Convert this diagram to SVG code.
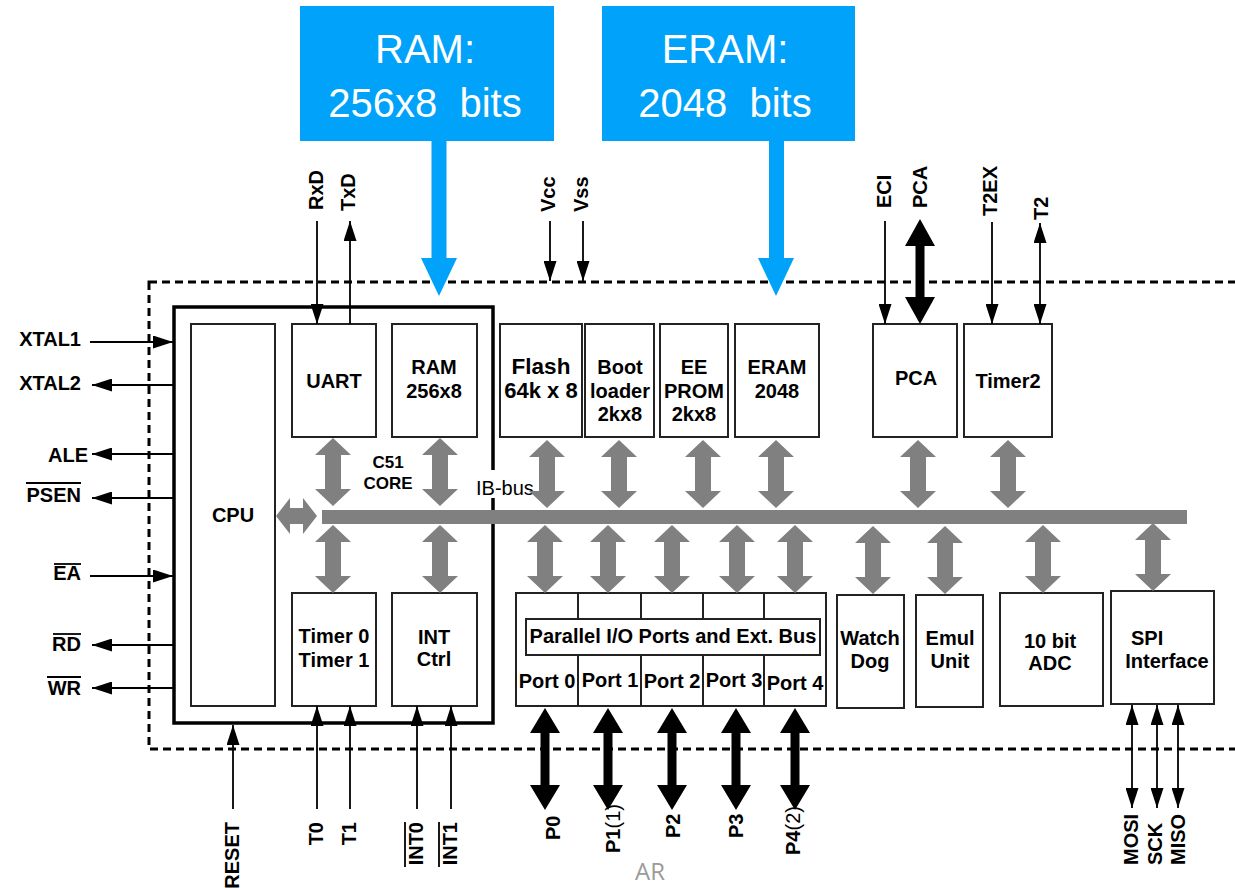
<svg xmlns="http://www.w3.org/2000/svg" xmlns:xlink="http://www.w3.org/1999/xlink" width="1235" height="888" viewBox="0 0 1235 888">
  <style>
    .lbl { font-family: "Liberation Sans", Arial, sans-serif; font-weight: bold; font-size: 20px; fill: #000; }
    .mid { text-anchor: middle; }
    .end { text-anchor: end; }
    .reg { font-weight: normal; }
    .box { fill: #fff; stroke: #222; stroke-width: 2; }
    .wire { stroke: #000; stroke-width: 1.8; fill: none; }
    .ovl { stroke: #000; stroke-width: 1.8; }
    .gray { fill: #808080; }
    .blk { fill: #000; }
    .blue { fill: #00A2FA; }
    .btxt { font-family: "Liberation Sans", Arial, sans-serif; font-size: 40px; fill: #fff; text-anchor: middle; }
  </style>
  <defs>
    <marker id="ah" markerUnits="userSpaceOnUse" markerWidth="20" markerHeight="13" refX="20" refY="6.5" orient="auto-start-reverse" viewBox="0 0 20 13">
      <path d="M0,0 L20,6.5 L0,13 Z" fill="#000"/>
    </marker>
    <!-- grey bus link, vertical, 68 px long -->
    <path id="gv" d="M0,0 L18,17 L8,17 L8,51 L18,51 L0,68 L-18,51 L-8,51 L-8,17 L-18,17 Z"/>
    <!-- black port link, vertical, 102 px long -->
    <path id="bv" d="M0,0 L15,25 L4.5,25 L4.5,77 L15,77 L0,102 L-15,77 L-4.5,77 L-4.5,25 L-15,25 Z"/>
  </defs>

  <rect width="1235" height="888" fill="#fff"/>

  <!-- chip outline -->
  <rect x="149" y="282" width="1110" height="467" fill="none" stroke="#000" stroke-width="3" stroke-dasharray="8 5"/>

  <!-- C51 core frame -->
  <g id="core">
    <rect x="174" y="307" width="319" height="416" fill="none" stroke="#000" stroke-width="3.5"/>
    <text class="lbl mid" x="388" y="468" style="font-size:17px">C51</text>
    <text class="lbl mid" x="388" y="489" style="font-size:17px">CORE</text>
  </g>

  <g id="cpu">
    <rect class="box" x="191" y="324" width="84" height="382"/>
    <text class="lbl mid" x="233" y="522">CPU</text>
  </g>
  <g id="uart">
    <rect class="box" x="292" y="324" width="84" height="113"/>
    <text class="lbl mid" x="334" y="388">UART</text>
  </g>
  <g id="ram">
    <rect class="box" x="392" y="324" width="85" height="113"/>
    <text class="lbl mid" x="434" y="374">RAM</text>
    <text class="lbl mid" x="434" y="398">256x8</text>
  </g>
  <g id="timers">
    <rect class="box" x="292" y="593" width="84" height="113"/>
    <text class="lbl mid" x="334" y="643">Timer 0</text>
    <text class="lbl mid" x="334" y="667">Timer 1</text>
  </g>
  <g id="intctrl">
    <rect class="box" x="392" y="593" width="85" height="113"/>
    <text class="lbl mid" x="434" y="644">INT</text>
    <text class="lbl mid" x="434" y="666">Ctrl</text>
  </g>

  <g id="flash">
    <rect class="box" x="500" y="324" width="82" height="113"/>
    <text class="lbl mid" x="541" y="374" style="font-size:22.5px">Flash</text>
    <text class="lbl mid" x="541" y="398" style="font-size:22px">64k x 8</text>
  </g>
  <g id="bootloader">
    <rect class="box" x="585" y="324" width="69" height="113"/>
    <text class="lbl mid" x="620" y="374">Boot</text>
    <text class="lbl mid" x="620" y="398">loader</text>
    <text class="lbl mid" x="620" y="421">2kx8</text>
  </g>
  <g id="eeprom">
    <rect class="box" x="660" y="324" width="68" height="113"/>
    <text class="lbl mid" x="694" y="374">EE</text>
    <text class="lbl mid" x="694" y="398">PROM</text>
    <text class="lbl mid" x="694" y="421">2kx8</text>
  </g>
  <g id="eram">
    <rect class="box" x="735" y="324" width="84" height="113"/>
    <text class="lbl mid" x="777" y="374">ERAM</text>
    <text class="lbl mid" x="777" y="398">2048</text>
  </g>
  <g id="pca">
    <rect class="box" x="873" y="324" width="84" height="113"/>
    <text class="lbl mid" x="916" y="385">PCA</text>
  </g>
  <g id="timer2">
    <rect class="box" x="964" y="324" width="88" height="113"/>
    <text class="lbl mid" x="1008" y="388">Timer2</text>
  </g>

  <g id="ports">
    <rect class="box" x="516" y="593" width="310" height="113"/>
    <path d="M578,593 V619 M641,593 V619 M703,593 V619 M764,593 V619 M578,655 V706 M641,655 V706 M703,655 V706 M764,655 V706" stroke="#222" stroke-width="2"/>
    <rect class="box" x="526" y="619" width="294" height="36"/>
    <text class="lbl mid" x="673" y="643">Parallel I/O Ports and Ext. Bus</text>
    <text class="lbl mid" x="547" y="688">Port 0</text>
    <text class="lbl mid" x="610" y="687">Port 1</text>
    <text class="lbl mid" x="672" y="688">Port 2</text>
    <text class="lbl mid" x="734" y="687">Port 3</text>
    <text class="lbl mid" x="795" y="690">Port 4</text>
  </g>
  <g id="watchdog">
    <rect class="box" x="837" y="595" width="67" height="113"/>
    <text class="lbl mid" x="870" y="645">Watch</text>
    <text class="lbl mid" x="870" y="668">Dog</text>
  </g>
  <g id="emul">
    <rect class="box" x="916" y="595" width="67" height="112"/>
    <text class="lbl mid" x="950" y="645">Emul</text>
    <text class="lbl mid" x="950" y="668">Unit</text>
  </g>
  <g id="adc">
    <rect class="box" x="1000" y="593" width="103" height="113"/>
    <text class="lbl mid" x="1050" y="648">10 bit</text>
    <text class="lbl mid" x="1050" y="670">ADC</text>
  </g>
  <g id="spi">
    <rect class="box" x="1111" y="591" width="103" height="113"/>
    <text class="lbl" x="1131" y="645">SPI</text>
    <text class="lbl mid" x="1167" y="668">Interface</text>
  </g>

  <!-- internal bus and links -->
  <g id="connectors">
    <rect class="gray" x="322" y="510" width="865" height="14"/>
    <rect x="488" y="470" width="10" height="28" fill="#fff"/>
    <text class="lbl reg" x="476" y="495">IB-bus</text>
    <path class="gray" d="M276,516 L290,498 L290,508 L303,508 L303,498 L317,516 L303,534 L303,524 L290,524 L290,534 Z"/>

    <g class="gray">
      <use xlink:href="#gv" x="333" y="438"/>
      <use xlink:href="#gv" x="440" y="438"/>
      <use xlink:href="#gv" x="333" y="525"/>
      <use xlink:href="#gv" x="440" y="525"/>
      <use xlink:href="#gv" x="547" y="440"/>
      <use xlink:href="#gv" x="619" y="440"/>
      <use xlink:href="#gv" x="703" y="440"/>
      <use xlink:href="#gv" x="776" y="440"/>
      <use xlink:href="#gv" x="918" y="440"/>
      <use xlink:href="#gv" x="1008" y="440"/>
      <use xlink:href="#gv" x="545" y="525"/>
      <use xlink:href="#gv" x="608" y="525"/>
      <use xlink:href="#gv" x="672" y="525"/>
      <use xlink:href="#gv" x="737" y="525"/>
      <use xlink:href="#gv" x="795" y="525"/>
      <use xlink:href="#gv" x="873" y="526"/>
      <use xlink:href="#gv" x="945" y="526"/>
      <use xlink:href="#gv" x="1043" y="525"/>
      <use xlink:href="#gv" x="1153" y="523"/>
    </g>

    <!-- port pins -->
    <g class="blk">
      <use xlink:href="#bv" x="545" y="708"/>
      <use xlink:href="#bv" x="608" y="708"/>
      <use xlink:href="#bv" x="672" y="708"/>
      <use xlink:href="#bv" x="736" y="708"/>
      <use xlink:href="#bv" x="795" y="708"/>
      <path d="M920,219 L935,246 L924.5,246 L924.5,297 L935,297 L920,324 L905,297 L915.5,297 L915.5,246 L905,246 Z"/>
    </g>

    <!-- single-wire signals -->
    <g class="wire" marker-end="url(#ah)">
      <line x1="90" y1="342" x2="173" y2="342"/>
      <line x1="174" y1="385" x2="92" y2="385"/>
      <line x1="174" y1="454" x2="92" y2="454"/>
      <line x1="174" y1="498" x2="92" y2="498"/>
      <line x1="90" y1="576" x2="173" y2="576"/>
      <line x1="174" y1="645" x2="92" y2="645"/>
      <line x1="174" y1="688" x2="92" y2="688"/>
      <line x1="317" y1="221" x2="317" y2="324"/>
      <line x1="350" y1="324" x2="350" y2="221"/>
      <line x1="550" y1="221" x2="550" y2="281"/>
      <line x1="583" y1="221" x2="583" y2="281"/>
      <line x1="885" y1="221" x2="885" y2="324"/>
      <line x1="992" y1="222" x2="992" y2="324"/>
      <line x1="233" y1="809" x2="233" y2="725"/>
      <line x1="317" y1="809" x2="317" y2="706"/>
      <line x1="350" y1="809" x2="350" y2="706"/>
      <line x1="417" y1="809" x2="417" y2="706"/>
      <line x1="451" y1="809" x2="451" y2="706"/>
    </g>
    <g class="wire" marker-start="url(#ah)" marker-end="url(#ah)">
      <line x1="1040" y1="223" x2="1040" y2="324"/>
      <line x1="1132" y1="705" x2="1132" y2="808"/>
      <line x1="1157" y1="705" x2="1157" y2="808"/>
      <line x1="1178" y1="705" x2="1178" y2="808"/>
    </g>
  </g>

  <!-- pin names, left -->
  <g id="pins-left">
    <text class="lbl end" x="81" y="346">XTAL1</text>
    <text class="lbl end" x="81" y="390">XTAL2</text>
    <text class="lbl end" x="88" y="462">ALE</text>
    <text class="lbl end" x="81" y="502">PSEN</text>
    <text class="lbl end" x="81" y="580">EA</text>
    <text class="lbl end" x="81" y="651">RD</text>
    <text class="lbl end" x="81" y="695">WR</text>
    <line class="ovl" x1="26" y1="483" x2="81" y2="483"/>
    <line class="ovl" x1="54" y1="564" x2="81" y2="564"/>
    <line class="ovl" x1="53" y1="634" x2="81" y2="634"/>
    <line class="ovl" x1="47" y1="677" x2="81" y2="677"/>
  </g>

  <!-- pin names, top -->
  <g id="pins-top">
    <text class="lbl" transform="translate(323,210) rotate(-90)">RxD</text>
    <text class="lbl" transform="translate(355,211) rotate(-90)">TxD</text>
    <text class="lbl" transform="translate(555,212) rotate(-90)">Vcc</text>
    <text class="lbl" transform="translate(588,212) rotate(-90)">Vss</text>
    <text class="lbl" transform="translate(891,208) rotate(-90)">ECI</text>
    <text class="lbl" transform="translate(927,208) rotate(-90)">PCA</text>
    <text class="lbl" transform="translate(997,216) rotate(-90)">T2EX</text>
    <text class="lbl" transform="translate(1048,220) rotate(-90)">T2</text>
  </g>

  <!-- pin names, bottom -->
  <g id="pins-bottom">
    <text class="lbl end" transform="translate(239,822) rotate(-90)">RESET</text>
    <text class="lbl end" transform="translate(323,822) rotate(-90)">T0</text>
    <text class="lbl end" transform="translate(356,822) rotate(-90)">T1</text>
    <text class="lbl end" transform="translate(423,822) rotate(-90)">INT0</text>
    <text class="lbl end" transform="translate(457,822) rotate(-90)">INT1</text>
    <line class="ovl" x1="405" y1="822" x2="405" y2="867"/>
    <line class="ovl" x1="439" y1="822" x2="439" y2="867"/>
    <text class="lbl" transform="translate(560,840) rotate(-90)">P0</text>
    <text class="lbl" transform="translate(620,853) rotate(-90)">P1<tspan class="reg">(1)</tspan></text>
    <text class="lbl" transform="translate(680,838) rotate(-90)">P2</text>
    <text class="lbl" transform="translate(743,838) rotate(-90)">P3</text>
    <text class="lbl" transform="translate(800,855) rotate(-90)">P4<tspan class="reg">(2)</tspan></text>
    <text class="lbl" transform="translate(1138,865) rotate(-90)">MOSI</text>
    <text class="lbl" transform="translate(1162,865) rotate(-90)">SCK</text>
    <text class="lbl" transform="translate(1185,865) rotate(-90)">MISO</text>
  </g>

  <!-- memory size callouts -->
  <g id="callout-ram">
    <rect class="blue" x="300" y="6" width="254" height="135"/>
    <text class="btxt" x="425" y="63">RAM:</text>
    <text class="btxt" x="425" y="117" xml:space="preserve">256x8  bits</text>
    <path class="blue" d="M431.5,140 L446.5,140 L446.5,258 L457,258 L439,296 L421,258 L431.5,258 Z"/>
  </g>
  <g id="callout-eram">
    <rect class="blue" x="602" y="6" width="253" height="135"/>
    <text class="btxt" x="725" y="63">ERAM:</text>
    <text class="btxt" x="725" y="117" xml:space="preserve">2048  bits</text>
    <path class="blue" d="M769,140 L784,140 L784,258 L794,258 L776,296 L758,258 L769,258 Z"/>
  </g>

  <text x="650" y="880" font-family="'Open Sans', 'Liberation Sans', sans-serif" font-size="24" fill="#9a9a9a" text-anchor="middle">AR</text>
</svg>
